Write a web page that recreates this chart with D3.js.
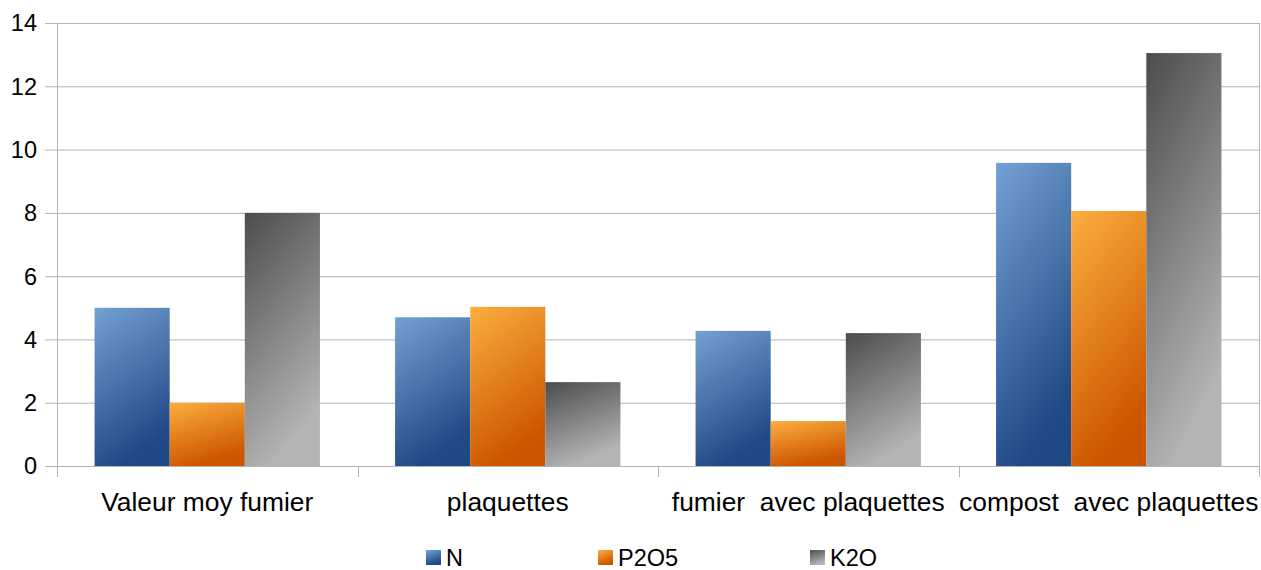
<!DOCTYPE html>
<html>
<head>
<meta charset="utf-8">
<script src="https://cdn.jsdelivr.net/npm/d3@7"></script>
<style>
  body { margin: 0; background: #fff; }
  svg { display: block; font-family: "Liberation Sans", Arial, sans-serif; }
</style>
</head>
<body>
<div id="chart"></div>
<script>
// data
var categories = ["Valeur moy fumier", "plaquettes", "fumier  avec plaquettes", "compost  avec plaquettes"];
var seriesNames = ["N", "P2O5", "K2O"];
var valuesN = [5.0, 4.7, 4.27, 9.58];
var valuesP2O5 = [2.0, 5.03, 1.42, 8.06];
var valuesK2O = [8.0, 2.65, 4.2, 13.05];
var yTicks = [0, 2, 4, 6, 8, 10, 12, 14];

var series = [valuesN, valuesP2O5, valuesK2O];
// gradient stops: [light/top-left, bottom-right]
var gradients = [
    ["#74a1d3", "#1f4886"],
    ["#fcae3e", "#cc5500"],
    ["#4c4c4c", "#b4b4b4"]
];

var width = 1261, height = 570;
var margin = { top: 23, left: 57 };
var plotW = 1259 - margin.left;
var plotH = 466 - margin.top;

var svg = d3.select("#chart").append("svg")
    .attr("width", width)
    .attr("height", height);

var defs = svg.append("defs");
gradients.forEach(function(g, i) {
    var lg = defs.append("linearGradient")
        .attr("id", "grad" + i)
        .attr("x1", 0).attr("y1", 0)
        .attr("x2", 0.35).attr("y2", 1);
    lg.append("stop").attr("offset", "0%").attr("stop-color", g[0]);
    lg.append("stop").attr("offset", "100%").attr("stop-color", g[1]);
});

var x = d3.scaleBand().domain(categories).range([0, plotW]);
var xInner = d3.scaleBand().domain(seriesNames).range([0, x.bandwidth()]).paddingOuter(0.5).paddingInner(0);
var y = d3.scaleLinear().domain([0, 14]).range([plotH, 0]);

var g = svg.append("g").attr("transform", "translate(" + margin.left + "," + margin.top + ")");

// grid
g.append("g")
    .selectAll("line")
    .data(yTicks)
    .join("line")
    .attr("x1", -12).attr("x2", plotW)
    .attr("y1", d => y(d) + 0.5).attr("y2", d => y(d) + 0.5)
    .attr("stroke", "#b3b3b3")
    .attr("stroke-width", 1);

// y tick labels
g.append("g")
    .selectAll("text")
    .data(yTicks)
    .join("text")
    .attr("x", -20)
    .attr("y", d => y(d))
    .attr("dy", "0.36em")
    .attr("text-anchor", "end")
    .attr("font-size", 23.5)
    .attr("fill", "#000")
    .text(d => d);

// bars
var groups = g.append("g")
    .selectAll("g")
    .data(categories)
    .join("g")
    .attr("transform", d => "translate(" + x(d) + ",0)");

groups.selectAll("rect")
    .data((d, ci) => seriesNames.map((s, si) => ({ s: s, si: si, v: series[si][ci] })))
    .join("rect")
    .attr("x", d => xInner(d.s))
    .attr("width", xInner.bandwidth())
    .attr("y", d => y(d.v))
    .attr("height", d => y(0) - y(d.v))
    .attr("fill", d => "url(#grad" + d.si + ")");

// axes lines
g.append("line")
    .attr("x1", 0.5).attr("x2", 0.5)
    .attr("y1", 0).attr("y2", plotH + 11)
    .attr("stroke", "#b3b3b3");
g.append("line")
    .attr("x1", plotW + 0.5).attr("x2", plotW + 0.5)
    .attr("y1", 0).attr("y2", plotH + 11)
    .attr("stroke", "#b3b3b3");

// category ticks
g.append("g")
    .selectAll("line")
    .data(categories.slice(1))
    .join("line")
    .attr("x1", d => Math.round(x(d)) + 0.5).attr("x2", d => Math.round(x(d)) + 0.5)
    .attr("y1", plotH).attr("y2", plotH + 11)
    .attr("stroke", "#b3b3b3");

// category labels
g.append("g")
    .selectAll("text")
    .data(categories)
    .join("text")
    .attr("x", d => x(d) + x.bandwidth() / 2)
    .attr("y", plotH + 45)
    .attr("text-anchor", "middle")
    .attr("font-size", 26.4)
    .style("white-space", "pre")
    .attr("xml:space", "preserve")
    .attr("fill", "#000")
    .text(d => d);

// legend
var legendX = [426, 598, 810];
var legend = svg.append("g")
    .selectAll("g")
    .data(seriesNames)
    .join("g")
    .attr("transform", (d, i) => "translate(" + legendX[i] + ",550)");
legend.append("rect")
    .attr("width", 15).attr("height", 15)
    .attr("fill", (d, i) => "url(#grad" + i + ")");
legend.append("text")
    .attr("x", 20)
    .attr("y", 7.5)
    .attr("dy", "0.36em")
    .attr("font-size", 23.5)
    .attr("fill", "#000")
    .text(d => d);
</script>
</body>
</html>
